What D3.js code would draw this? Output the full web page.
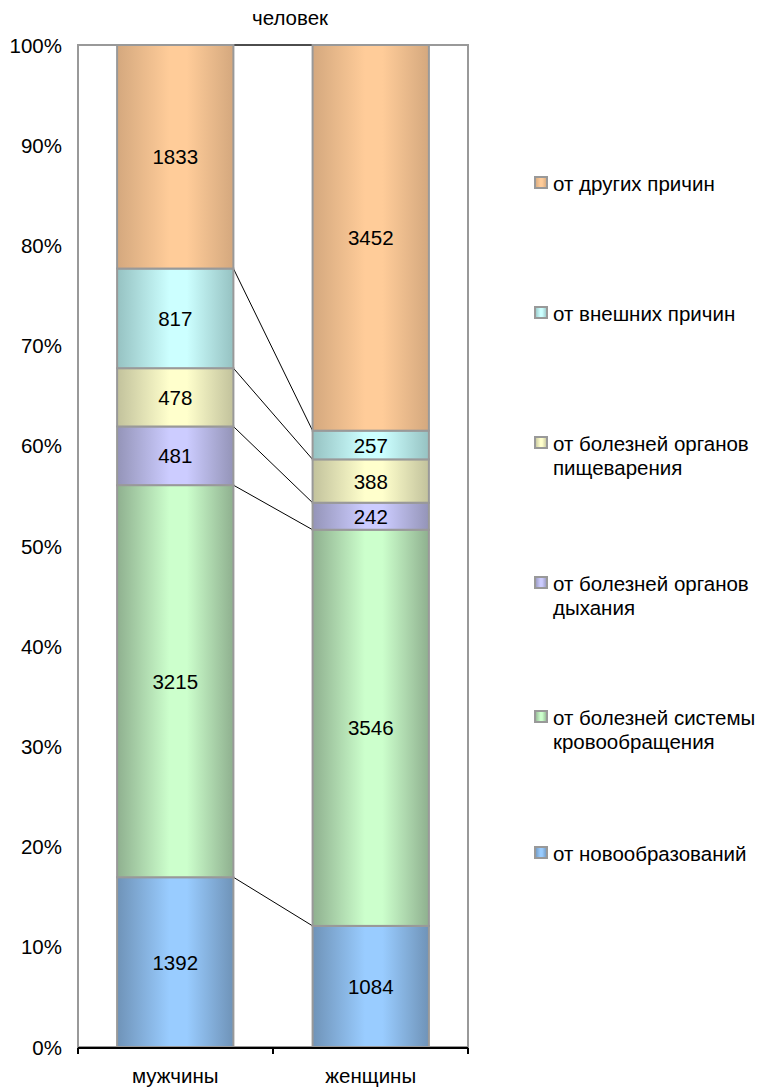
<!DOCTYPE html>
<html><head><meta charset="utf-8">
<script src="https://cdn.jsdelivr.net/npm/d3@7/dist/d3.min.js"></script>
<style>body{margin:0;background:#fff;font-family:"Liberation Sans",Arial,sans-serif;}</style>
</head><body><svg id="c" width="768" height="1087"></svg>
<script>
const categories = ["мужчины", "женщины"];
const seriesNames = ["от новообразований", "от болезней системы кровообращения", "от болезней органов дыхания", "от болезней органов пищеварения", "от внешних причин", "от других причин"];
const legendLines = [["от новообразований"], ["от болезней системы", "кровообращения"], ["от болезней органов", "дыхания"], ["от болезней органов", "пищеварения"], ["от внешних причин"], ["от других причин"]];
const menValues = [1392, 3215, 481, 478, 817, 1833];
const womenValues = [1084, 3546, 242, 388, 257, 3452];
const yTicks = [0, 0.1, 0.2, 0.3, 0.4, 0.5, 0.6, 0.7, 0.8, 0.9, 1.0];
const title = "человек";
const colors = [
  {edge: "#6f93b8", mid: "#99ccff"},
  {edge: "#8fb08f", mid: "#ccffcc"},
  {edge: "#9494b8", mid: "#ccccff"},
  {edge: "#c2c29c", mid: "#ffffcc"},
  {edge: "#96c2c2", mid: "#ccffff"},
  {edge: "#d4a87e", mid: "#ffcc99"}
];

(function(){
const FS = 20.5;
const svg = d3.select("#c");
const pL = 78, pR = 468, pT = 45, pB = 1047;
const x = d3.scaleBand().domain(categories).range([pL, pR]).paddingInner(0.405).paddingOuter(0.2);
const y = d3.scaleLinear().domain([0, 1]).range([pB, pT]);

const defs = svg.append("defs");
colors.forEach((c, i) => {
  const g = defs.append("linearGradient").attr("id", "g" + i).attr("x1", "0").attr("x2", "1").attr("y1", "0").attr("y2", "0");
  g.append("stop").attr("offset", "0").attr("stop-color", c.edge);
  g.append("stop").attr("offset", "0.45").attr("stop-color", c.mid);
  g.append("stop").attr("offset", "0.6").attr("stop-color", c.mid);
  g.append("stop").attr("offset", "1").attr("stop-color", c.edge);
});

svg.append("rect").attr("x", pL).attr("y", pT).attr("width", pR - pL).attr("height", pB - pT)
  .attr("fill", "none").attr("stroke", "#999").attr("stroke-width", 2);

const data = [menValues, womenValues].map((vals, ci) => {
  const total = d3.sum(vals);
  let acc = 0;
  return vals.map((v, si) => {
    const y0 = acc / total; acc += v; const y1 = acc / total;
    return {cat: categories[ci], si, v, y0, y1};
  });
});

const bw = x.bandwidth();
for (let si = 0; si < seriesNames.length; si++) {
  const a = data[0][si], b = data[1][si];
  svg.append("line").attr("x1", x(categories[0]) + bw).attr("x2", x(categories[1]))
    .attr("y1", y(a.y1)).attr("y2", y(b.y1)).attr("stroke", "#000").attr("stroke-width", 1);
}

data.forEach(col => {
  const g = svg.append("g");
  g.selectAll("rect").data(col).join("rect")
    .attr("x", d => x(d.cat)).attr("width", bw)
    .attr("y", d => y(d.y1)).attr("height", d => y(d.y0) - y(d.y1))
    .attr("fill", d => `url(#g${d.si})`).attr("stroke", "#999").attr("stroke-width", 2);
  g.selectAll("text").data(col).join("text")
    .attr("x", d => x(d.cat) + bw / 2).attr("y", d => (y(d.y0) + y(d.y1)) / 2)
    .attr("text-anchor", "middle").attr("dominant-baseline", "central")
    .attr("font-size", FS).attr("fill", "#000").text(d => d.v);
});

svg.append("g").selectAll("text").data(yTicks).join("text")
  .attr("x", 62).attr("y", d => y(d)).attr("text-anchor", "end").attr("dominant-baseline", "central")
  .attr("font-size", FS).text(d => d3.format(".0%")(d));

const xAxis = svg.append("g").attr("transform", `translate(0,${pB + 1})`);
xAxis.append("line").attr("x1", pL).attr("x2", pR).attr("stroke", "#000").attr("stroke-width", 2);
[pL, (pL + pR) / 2, pR].forEach(t => xAxis.append("line").attr("x1", t).attr("x2", t).attr("y1", 0).attr("y2", 6).attr("stroke", "#000").attr("stroke-width", 2));
xAxis.selectAll("text.cat").data(categories).join("text").attr("class", "cat")
  .attr("x", d => x(d) + bw / 2).attr("y", 35).attr("text-anchor", "middle").attr("font-size", FS).text(d => d);

svg.append("text").attr("x", 290).attr("y", 25).attr("text-anchor", "middle").attr("font-size", FS).text(title);

const legendY = [183, 313, 443, 583, 717, 853];
const order = d3.range(seriesNames.length).reverse();
order.forEach((si, k) => {
  const ly = legendY[k];
  svg.append("rect").attr("x", 535).attr("y", ly - 6).attr("width", 12).attr("height", 11)
    .attr("fill", `url(#g${si})`).attr("stroke", "#999").attr("stroke-width", 2);
  const t = svg.append("text").attr("x", 553).attr("y", ly).attr("font-size", FS).attr("dominant-baseline", "central");
  legendLines[si].forEach((ln, j) => t.append("tspan").attr("x", 553).attr("dy", j === 0 ? 0 : 24).text(ln));
});
})();
</script></body></html>
